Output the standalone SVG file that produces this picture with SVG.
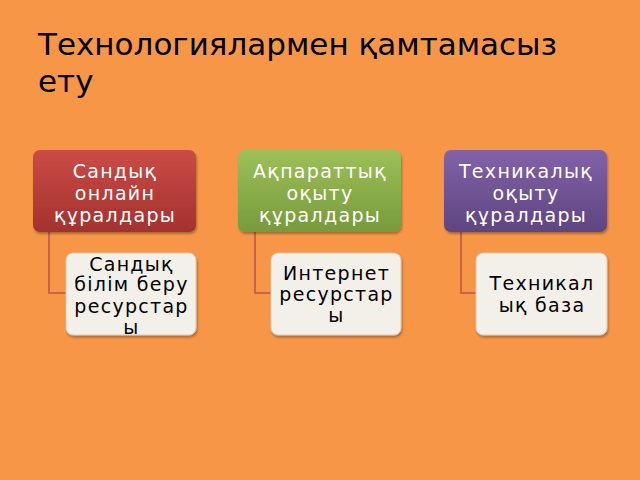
<svg xmlns="http://www.w3.org/2000/svg" width="640" height="480" viewBox="0 0 640 480">
<defs>
<linearGradient id="gRed" x1="0" y1="0" x2="0" y2="1"><stop offset="0" stop-color="#CB4B46"/><stop offset="1" stop-color="#A3322F"/></linearGradient>
<linearGradient id="gGreen" x1="0" y1="0" x2="0" y2="1"><stop offset="0" stop-color="#9DC05A"/><stop offset="1" stop-color="#779A3C"/></linearGradient>
<linearGradient id="gPurple" x1="0" y1="0" x2="0" y2="1"><stop offset="0" stop-color="#8262A8"/><stop offset="1" stop-color="#5E4580"/></linearGradient>
<filter id="sh" x="-10%" y="-10%" width="130%" height="130%"><feDropShadow dx="1" dy="2" stdDeviation="1.2" flood-color="#000" flood-opacity="0.3"/></filter>
</defs>
<style>
.t{font-family:"DejaVu Sans",sans-serif;font-size:19px;letter-spacing:1.3px;text-anchor:middle}
.w{fill:#FFFFFF}
.k{fill:#000000}
.child{fill:#F3F0EA;stroke:#D9C9B8;stroke-width:1}
.con{fill:none;stroke:#C0504D;stroke-width:1.5}
.title{font-family:"DejaVu Sans",sans-serif;font-size:31px;fill:#000}
</style>
<rect x="0" y="0" width="640" height="480" fill="#F79646"/>
<g id="title">
<text class="title" x="38" y="55">Технологиялармен қамтамасыз</text>
<text class="title" x="38" y="92">ету</text>
</g>
<g id="connectors">
<path class="con" d="M49,232 V293 H66"/>
<path class="con" d="M255,232 V293 H271"/>
<path class="con" d="M461,232 V293 H476"/>
</g>
<g id="n1">
<rect x="33" y="150" width="163" height="82" rx="7" fill="url(#gRed)" filter="url(#sh)"/>
<text class="t w" x="115" y="178">Сандық</text>
<text class="t w" x="115" y="200">онлайн</text>
<text class="t w" x="115" y="222">құралдары</text>
</g>
<g id="n2">
<rect x="238" y="150" width="163" height="82" rx="7" fill="url(#gGreen)" filter="url(#sh)"/>
<text class="t w" x="320" y="178">Ақпараттық</text>
<text class="t w" x="320" y="200">оқыту</text>
<text class="t w" x="320" y="222">құралдары</text>
</g>
<g id="n3">
<rect x="444" y="150" width="163" height="82" rx="7" fill="url(#gPurple)" filter="url(#sh)"/>
<text class="t w" x="526" y="178">Техникалық</text>
<text class="t w" x="526" y="200">оқыту</text>
<text class="t w" x="526" y="222">құралдары</text>
</g>
<g id="c1">
<rect class="child" x="66" y="253" width="130" height="82" rx="7" filter="url(#sh)"/>
<text class="t k" x="131.5" y="271">Сандық</text>
<text class="t k" x="131.5" y="291">білім беру</text>
<text class="t k" x="131.5" y="313">ресурстар</text>
<text class="t k" x="131.5" y="334">ы</text>
</g>
<g id="c2">
<rect class="child" x="271" y="253" width="130" height="82" rx="7" filter="url(#sh)"/>
<text class="t k" x="336.5" y="280">Интернет</text>
<text class="t k" x="336.5" y="301">ресурстар</text>
<text class="t k" x="336.5" y="322">ы</text>
</g>
<g id="c3">
<rect class="child" x="476" y="253" width="131" height="82" rx="7" filter="url(#sh)"/>
<text class="t k" x="542" y="290">Техникал</text>
<text class="t k" x="542" y="312">ық база</text>
</g>
</svg>
